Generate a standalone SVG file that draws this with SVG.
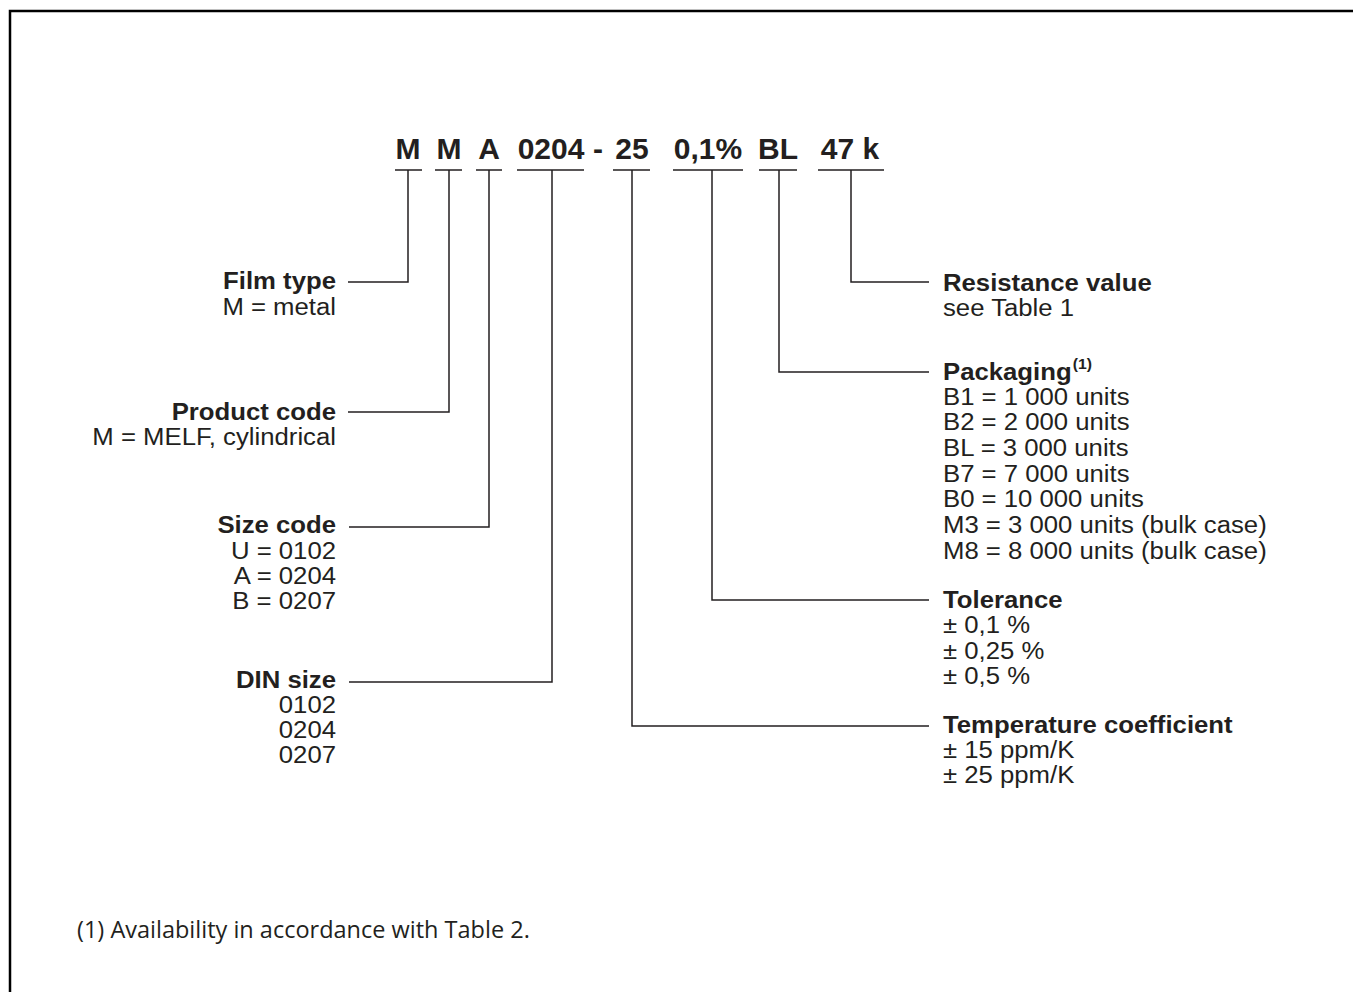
<svg xmlns="http://www.w3.org/2000/svg" width="1353" height="992" viewBox="0 0 1353 992">
<style>
.t{font-family:"Liberation Sans",Arial,sans-serif;font-size:24.5px;fill:#231f20}
.b{font-weight:bold}
.code{font-family:"Liberation Sans",Arial,sans-serif;font-size:30px;font-weight:bold;fill:#231f20;text-anchor:middle}
.r{text-anchor:end}
.ln{fill:none;stroke:#231f20;stroke-width:1.5}
.foot{font-family:"Open Sans","DejaVu Sans",sans-serif;font-size:23.5px;fill:#231f20}
</style>
<rect width="1353" height="992" fill="#fff"/>
<path d="M10,992 V11 H1353" fill="none" stroke="#000" stroke-width="2.5"/>
<g id="code">
<text class="code" x="408" y="159">M</text>
<text class="code" x="449" y="159">M</text>
<text class="code" x="489" y="159">A</text>
<text class="code" x="551" y="159">0204</text>
<text class="code" x="598" y="159">-</text>
<text class="code" x="632" y="159">25</text>
<text class="code" x="708" y="159">0,1%</text>
<text class="code" x="778" y="159">BL</text>
<text class="code" x="850" y="159">47 k</text>
</g>
<g id="connectors" class="ln">
<path d="M395,170H422M435,170H462M476,170H502M517,170H584M613,170H650M673,170H743M759,170H797M818,170H884"/>
<path d="M408,170V282H348"/>
<path d="M449,170V412H348"/>
<path d="M489,170V527H349"/>
<path d="M552,170V682H349"/>
<path d="M632,170V726H929"/>
<path d="M712,170V600H929"/>
<path d="M779,170V372H929"/>
<path d="M851,170V282H929"/>
</g>
<g id="film-type" class="t r" transform="translate(336,0) scale(1.05,1)">
<text class="b" x="0" y="289">Film type</text>
<text x="0" y="315">M = metal</text>
</g>
<g id="product-code" class="t r" transform="translate(336,0) scale(1.05,1)">
<text class="b" x="0" y="420">Product code</text>
<text x="0" y="445">M = MELF, cylindrical</text>
</g>
<g id="size-code" class="t r" transform="translate(336,0) scale(1.05,1)">
<text class="b" x="0" y="533">Size code</text>
<text x="0" y="559">U = 0102</text>
<text x="0" y="584">A = 0204</text>
<text x="0" y="609">B = 0207</text>
</g>
<g id="din-size" class="t r" transform="translate(336,0) scale(1.05,1)">
<text class="b" x="0" y="688">DIN size</text>
<text x="0" y="713">0102</text>
<text x="0" y="738">0204</text>
<text x="0" y="763">0207</text>
</g>
<g id="resistance" class="t" transform="translate(943,0) scale(1.05,1)">
<text class="b" x="0" y="291">Resistance value</text>
<text x="0" y="316">see Table 1</text>
</g>
<g id="packaging" class="t" transform="translate(943,0) scale(1.05,1)">
<text class="b" x="0" y="380">Packaging<tspan font-size="15" dx="1" dy="-11">(1)</tspan></text>
<text x="0" y="405">B1 = 1 000 units</text>
<text x="0" y="430">B2 = 2 000 units</text>
<text x="0" y="456">BL = 3 000 units</text>
<text x="0" y="482">B7 = 7 000 units</text>
<text x="0" y="507">B0 = 10 000 units</text>
<text x="0" y="533">M3 = 3 000 units (bulk case)</text>
<text x="0" y="559">M8 = 8 000 units (bulk case)</text>
</g>
<g id="tolerance" class="t" transform="translate(943,0) scale(1.05,1)">
<text class="b" x="0" y="608">Tolerance</text>
<text x="0" y="633">± 0,1 %</text>
<text x="0" y="659">± 0,25 %</text>
<text x="0" y="684">± 0,5 %</text>
</g>
<g id="temperature" class="t" transform="translate(943,0) scale(1.05,1)">
<text class="b" x="0" y="733">Temperature coefficient</text>
<text x="0" y="758">± 15 ppm/K</text>
<text x="0" y="783">± 25 ppm/K</text>
</g>
<text id="footnote" class="foot" x="77" y="938">(1) Availability in accordance with Table 2.</text>
</svg>
